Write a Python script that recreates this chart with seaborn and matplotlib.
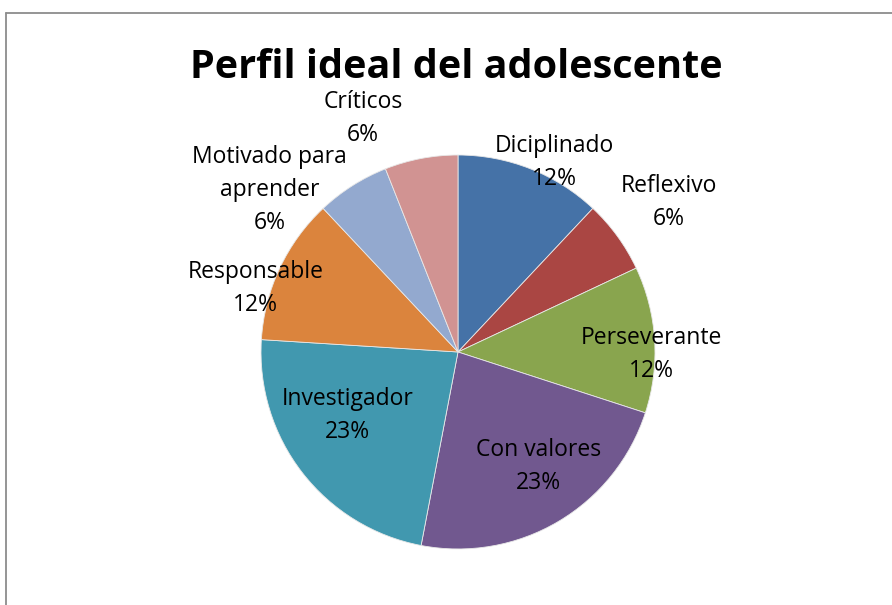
import numpy as np
import matplotlib
matplotlib.use("Agg")
import matplotlib.pyplot as plt
import seaborn as sns
from matplotlib.lines import Line2D

# data
categories = ["Diciplinado", "Reflexivo", "Perseverante", "Con valores",
              "Investigador", "Responsable", "Motivado para\naprender", "Críticos"]
values = [12, 6, 12, 23, 23, 12, 6, 6]
colors = ["#4572A7", "#AA4643", "#89A54E", "#71588F",
          "#4198AF", "#DB843D", "#93A9CF", "#D19392"]

# label layout (radius in pie radii, angle offset in degrees from wedge middle)
label_r = [1.09, 1.32, 0.98, 0.70, 0.64, 1.08, 1.27, 1.29]
label_off = [-5.2, -0.2, -3.6, 5.2, -8.8, 7.2, 16.5, 11.2]

sns.set_theme(style="white")
plt.rcParams["font.family"] = ["Open Sans", "DejaVu Sans"]

fig = plt.figure(figsize=(8.92, 6.05), dpi=100)
fig.patch.set_facecolor("white")

ax = fig.add_axes([0.2926, 0.0926, 0.4417, 0.6512])
wedges, _ = ax.pie(values, colors=colors, startangle=90, counterclock=False,
                   radius=1.0, wedgeprops=dict(edgecolor="#e8e8e8", linewidth=0.6))
ax.set_xlim(-1, 1)
ax.set_ylim(-1, 1)
ax.set_aspect("equal")
ax.axis("off")

for w, lab, v, r, off in zip(wedges, categories, values, label_r, label_off):
    mid = np.deg2rad((w.theta1 + w.theta2) / 2 + off)
    ax.text(r * np.cos(mid), r * np.sin(mid) - 0.012, f"{lab}\n{v}%",
            ha="center", va="center", fontsize=16.5, linespacing=1.5,
            color="black", clip_on=False)

fig.text(0.512, 0.888, "Perfil ideal del adolescente", ha="center", va="center",
         fontsize=28.5, fontweight="bold", color="black")

# chart frame edges visible in the crop
fig.add_artist(Line2D([5.5 / 892, 1.0], [1 - 12.5 / 605] * 2, color="#8c8c8c", lw=1.3))
fig.add_artist(Line2D([5.5 / 892] * 2, [0.0, 1 - 12.5 / 605], color="#8c8c8c", lw=1.3))

fig.savefig("out.png", dpi=100)
